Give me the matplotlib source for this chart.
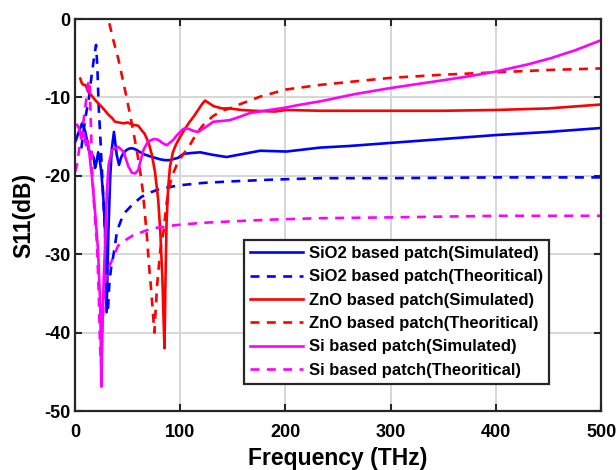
import matplotlib
matplotlib.use("Agg")
import matplotlib.pyplot as plt

plt.rcParams["font.family"] = ["Liberation Sans", "DejaVu Sans"]
plt.rcParams["font.weight"] = "bold"
plt.rcParams["axes.unicode_minus"] = False

# S11 curves, frequency in THz, magnitude in dB
sio2_sim_f = [0, 1, 3, 6.7, 9.8, 13, 15.8, 17.8, 19, 20.5, 22, 23.5, 25, 27, 28.5,
              30, 31.7, 33.5, 35, 37, 39.6, 41.8, 44, 46, 49, 52, 55, 58.6, 62,
              66.5, 71, 76, 81, 85.5, 90, 98, 103, 110, 119, 130, 144, 160, 176,
              201, 233, 260, 300, 340, 400, 450, 500]
sio2_sim_db = [-15.7, -15.4, -14.6, -13.3, -14.4, -16.7, -17.2, -17.7, -19, -18.2,
               -17, -18, -19.5, -23, -26.7, -37.4, -27.2, -20, -16.5, -14.4, -17.3,
               -18.6, -17.6, -17.1, -16.7, -16.5, -16.5, -16.7, -17, -17.3, -17.5,
               -17.7, -17.9, -18, -18, -17.7, -17.2, -17.1, -17, -17.3, -17.6,
               -17.2, -16.8, -16.9, -16.4, -16.2, -15.8, -15.4, -14.8, -14.4, -13.9]

sio2_th_f = [6, 9.8, 13, 15.5, 18, 20, 21.2, 22.5, 24, 25.7, 27.3, 28.8, 30.4,
             31.2, 32.5, 34, 36.8, 40, 44, 48, 55, 63, 72, 82, 100, 122, 150,
             185, 233, 300, 400, 500]
sio2_th_db = [-16.5, -12.6, -10.3, -7.5, -5, -3.3, -6, -11.2, -15, -19.7, -23.9,
              -28.2, -34.6, -37.4, -34, -32, -29.9, -27, -25.6, -24.6, -23.6,
              -22.7, -22.1, -21.6, -21.2, -20.9, -20.7, -20.5, -20.3, -20.3,
              -20.2, -20.2]

zno_sim_f = [5, 6.5, 8, 10, 12.6, 16, 19, 23.8, 28, 31.7, 35, 38, 42, 46, 50,
             55.4, 60, 63.4, 66, 68, 70, 73, 76, 79, 81, 83, 84, 85, 86, 87,
             88.5, 90.3, 93, 96, 100, 105, 109, 113, 117, 121, 123.6, 127,
             131.5, 139.5, 147, 158, 169.5, 190, 201, 233, 250, 300, 350, 400,
             450, 500]
zno_sim_db = [-7.6, -8.2, -8.4, -8.4, -9.3, -9.8, -10.3, -11, -11.6, -12.2,
              -12.6, -13.1, -13.2, -13.3, -13.2, -13.5, -13.6, -14.2, -14.6,
              -15.2, -15.8, -17.3, -19.5, -23, -27, -33, -37.5, -42, -33, -26,
              -21.5, -18.8, -17, -16, -15, -13.9, -13.1, -12.4, -11.6, -10.8,
              -10.4, -10.7, -11.1, -11.4, -11.4, -11.6, -11.7, -11.8, -11.6,
              -11.7, -11.7, -11.7, -11.7, -11.6, -11.4, -10.9]

zno_th_f = [29, 31.7, 36, 41, 45, 49, 52, 55.5, 59, 62, 64.5, 66.5, 68.5, 70.3,
            72, 73.5, 75.4, 78, 81, 84, 87, 90.3, 93, 96.6, 101, 109, 116, 122,
            131, 139.5, 147, 158, 176, 200, 233, 270, 300, 350, 400, 450, 500]
zno_th_db = [1.5, 0, -2.5, -5, -7.5, -10, -12, -14.4, -17, -19.5, -22, -25, -28,
             -31.4, -34, -36.5, -40, -34, -29.5, -27.2, -23.5, -21, -19.8, -18.6,
             -17.6, -16.1, -14.5, -13.5, -12.4, -11.7, -11.4, -10.8, -9.9, -9,
             -8.4, -7.9, -7.5, -7.1, -6.8, -6.5, -6.3]

si_sim_f = [2, 3.5, 6, 8.2, 10.5, 12, 13.5, 16, 19.3, 21.9, 24, 25, 26, 27.3,
            28.8, 30.4, 32, 35.2, 38, 41, 46, 50.7, 54, 57, 60, 62.5, 65, 69,
            72.9, 76, 79, 83, 87, 90, 93.4, 97, 100, 103, 108, 113, 117, 124,
            131.5, 140, 147, 156, 166, 185, 200, 211, 233, 265, 300, 340, 370,
            400, 430, 452, 475, 500]
si_sim_db = [-13.5, -13.9, -15.2, -14.5, -16.1, -15.5, -17, -20, -25, -29.5,
             -36.7, -46.9, -40, -33, -28, -21.8, -18.5, -16.7, -16.5, -16.3,
             -16.9, -18.8, -19.6, -19.7, -19.3, -18, -16.7, -15.7, -15.4, -15.3,
             -15.4, -15.8, -16.1, -15.8, -15.4, -14.8, -14.4, -14, -14, -14.3,
             -14.4, -13.8, -13.1, -13, -12.9, -12.5, -12, -11.6, -11.3, -11,
             -10.5, -9.6, -8.8, -8, -7.4, -6.7, -5.8, -5, -4, -2.7]

si_th_f = [0, 1.9, 4, 6.7, 9, 11.4, 13, 14, 15.2, 16.5, 18.5, 21, 22.5, 23.8,
           24.8, 26, 28, 31, 35, 41, 48, 55, 65, 73, 85, 95, 120, 150, 183, 233,
           300, 400, 500]
si_th_db = [-19.5, -18.6, -16.5, -14.5, -12, -9.5, -7.8, -8.2, -14, -20, -24.5,
            -29, -35, -41.8, -44, -39, -34, -32, -30.8, -28.9, -28.2, -27.6,
            -27.1, -26.7, -26.5, -26.3, -26, -25.8, -25.6, -25.4, -25.3, -25.1,
            -25.1]

x_ticks = [0, 100, 200, 300, 400, 500]
y_ticks = [0, -10, -20, -30, -40, -50]

series = [
    (sio2_sim_f, sio2_sim_db, "#0000ff", "-", "SiO2 based patch(Simulated)"),
    (sio2_th_f, sio2_th_db, "#0000ff", "--", "SiO2 based patch(Theoritical)"),
    (zno_sim_f, zno_sim_db, "#ff0000", "-", "ZnO based patch(Simulated)"),
    (zno_th_f, zno_th_db, "#ff0000", "--", "ZnO based patch(Theoritical)"),
    (si_sim_f, si_sim_db, "#ff00ff", "-", "Si based patch(Simulated)"),
    (si_th_f, si_th_db, "#ff00ff", "--", "Si based patch(Theoritical)"),
]

fig = plt.figure(figsize=(6.16, 4.70), dpi=100)
ax = fig.add_axes([0.1218, 0.1255, 0.854, 0.834])

for f, db, color, ls, label in series:
    line, = ax.plot(f, db, color=color, lw=1.9, label=label)
    if ls == "--":
        line.set_dashes((3.4, 2.8))

ax.set_xlim(0, 500)
ax.set_ylim(-50, 0)
ax.set_xticks(x_ticks)
ax.set_yticks(y_ticks)
ax.tick_params(direction="in", length=5, width=1.5, labelsize=13,
               top=True, right=True, colors="#262626", labelcolor="black")
ax.tick_params(axis="x", pad=9)
ax.grid(True, color="#d6d6d6", lw=1.4)
ax.set_axisbelow(True)
for sp in ax.spines.values():
    sp.set_linewidth(1.6)
    sp.set_color("#262626")

ax.set_xlabel("Frequency (THz)", fontsize=16.5, fontweight="bold", labelpad=5)
ax.set_ylabel("S11(dB)", fontsize=16.5, fontweight="bold", labelpad=6)

leg = ax.legend(loc="lower left", bbox_to_anchor=(0.321, 0.07), borderaxespad=0,
                fontsize=12, handlelength=3.2, handletextpad=0.35,
                labelspacing=0.5, borderpad=0.35, fancybox=False, framealpha=1)
leg.get_frame().set_edgecolor("#262626")
leg.get_frame().set_linewidth(1.6)

fig.savefig("out.png", dpi=100)
